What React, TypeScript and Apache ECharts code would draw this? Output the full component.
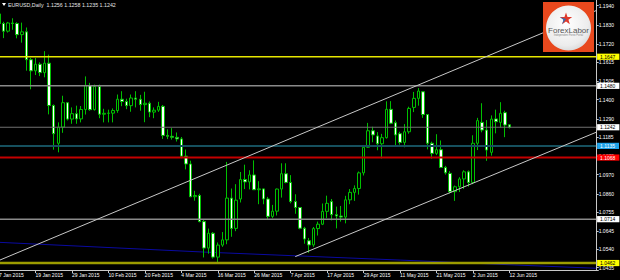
import React, { useEffect, useRef } from 'react';
import * as echarts from 'echarts';

// Daily EURUSD rows: [day, open, high, low, close]
const jan = [
  [7, 1.1893, 1.1896, 1.1802, 1.1838], [8, 1.1838, 1.1848, 1.1754, 1.1794], [9, 1.1794, 1.1847, 1.1786, 1.1841],
  [12, 1.1841, 1.1868, 1.1802, 1.1838], [13, 1.1838, 1.1845, 1.1753, 1.1774], [14, 1.1774, 1.1843, 1.1728, 1.1790],
  [15, 1.1790, 1.1815, 1.1567, 1.1630], [16, 1.1630, 1.1640, 1.1460, 1.1566], [19, 1.1566, 1.1640, 1.1542, 1.1604],
  [20, 1.1604, 1.1615, 1.1536, 1.1556], [21, 1.1556, 1.1679, 1.1529, 1.1610], [22, 1.1610, 1.1659, 1.1316, 1.1367],
  [23, 1.1367, 1.1373, 1.1113, 1.1205], [26, 1.1150, 1.1270, 1.1098, 1.1243], [27, 1.1243, 1.1423, 1.1210, 1.1383],
  [28, 1.1383, 1.1387, 1.1281, 1.1289], [29, 1.1289, 1.1356, 1.1262, 1.1320], [30, 1.1320, 1.1366, 1.1262, 1.1290],
];
const feb = [
  [2, 1.1290, 1.1364, 1.1270, 1.1344], [3, 1.1344, 1.1534, 1.1315, 1.1482], [4, 1.1482, 1.1497, 1.1337, 1.1343],
  [5, 1.1343, 1.1487, 1.1338, 1.1476], [6, 1.1476, 1.1487, 1.1294, 1.1317], [9, 1.1317, 1.1348, 1.1270, 1.1322],
  [10, 1.1322, 1.1343, 1.1270, 1.1323], [11, 1.1323, 1.1350, 1.1270, 1.1338], [12, 1.1338, 1.1430, 1.1325, 1.1403],
  [13, 1.1403, 1.1449, 1.1363, 1.1390], [16, 1.1390, 1.1406, 1.1346, 1.1366], [17, 1.1366, 1.1430, 1.1331, 1.1410],
  [18, 1.1410, 1.1449, 1.1356, 1.1403], [19, 1.1403, 1.1428, 1.1337, 1.1372], [20, 1.1372, 1.1446, 1.1271, 1.1380],
  [23, 1.1380, 1.1390, 1.1300, 1.1329], [24, 1.1329, 1.1356, 1.1294, 1.1340], [25, 1.1340, 1.1388, 1.1330, 1.1362],
  [26, 1.1362, 1.1370, 1.1175, 1.1195], [27, 1.1195, 1.1230, 1.1174, 1.1190],
];
const mar = [
  [2, 1.1190, 1.1237, 1.1171, 1.1184], [3, 1.1184, 1.1212, 1.1160, 1.1175], [4, 1.1175, 1.1186, 1.1064, 1.1076],
  [5, 1.1076, 1.1114, 1.1000, 1.1031], [6, 1.1031, 1.1050, 1.0840, 1.0843], [9, 1.0843, 1.0877, 1.0820, 1.0850],
  [10, 1.0850, 1.0860, 1.0696, 1.0700], [11, 1.0700, 1.0710, 1.0494, 1.0548], [12, 1.0548, 1.0660, 1.0516, 1.0633],
  [13, 1.0633, 1.0640, 1.0488, 1.0496], [16, 1.0496, 1.0580, 1.0462, 1.0565], [17, 1.0565, 1.0640, 1.0555, 1.0595],
  [18, 1.0595, 1.1043, 1.0570, 1.0835], [19, 1.0835, 1.0890, 1.0613, 1.0661], [20, 1.0661, 1.0915, 1.0645, 1.0823],
  [23, 1.0830, 1.0985, 1.0810, 1.0942], [24, 1.0942, 1.1027, 1.0887, 1.0928], [25, 1.0928, 1.0995, 1.0885, 1.0968],
  [26, 1.0968, 1.1052, 1.0883, 1.0883], [27, 1.0883, 1.0932, 1.0800, 1.0888], [30, 1.0888, 1.0890, 1.0800, 1.0830],
  [31, 1.0830, 1.0842, 1.0712, 1.0730],
];
const apr = [
  [1, 1.0730, 1.0796, 1.0720, 1.0760], [2, 1.0760, 1.0890, 1.0735, 1.0887], [3, 1.0887, 1.1035, 1.0838, 1.0975],
  [6, 1.0975, 1.1035, 1.0920, 1.0925], [7, 1.0925, 1.0967, 1.0805, 1.0815], [8, 1.0815, 1.0857, 1.0745, 1.0781],
  [9, 1.0781, 1.0783, 1.0656, 1.0662], [10, 1.0662, 1.0670, 1.0573, 1.0600], [13, 1.0590, 1.0606, 1.0521, 1.0566],
  [14, 1.0566, 1.0669, 1.0555, 1.0660], [15, 1.0660, 1.0700, 1.0620, 1.0685], [16, 1.0685, 1.0804, 1.0680, 1.0759],
  [17, 1.0759, 1.0849, 1.0720, 1.0805], [20, 1.0815, 1.0830, 1.0707, 1.0740], [21, 1.0740, 1.0786, 1.0661, 1.0732],
  [22, 1.0732, 1.0790, 1.0700, 1.0726], [23, 1.0726, 1.0848, 1.0690, 1.0825], [24, 1.0825, 1.0887, 1.0800, 1.0868],
  [27, 1.0868, 1.0908, 1.0819, 1.0890], [28, 1.0890, 1.0988, 1.0855, 1.0980], [29, 1.0980, 1.1140, 1.0965, 1.1127],
  [30, 1.1127, 1.1267, 1.1124, 1.1222],
];
const may = [
  [1, 1.1222, 1.1245, 1.1156, 1.1198], [4, 1.1192, 1.1214, 1.1110, 1.1147], [5, 1.1147, 1.1204, 1.1063, 1.1182],
  [6, 1.1182, 1.1391, 1.1177, 1.1345], [7, 1.1345, 1.1392, 1.1260, 1.1265], [8, 1.1268, 1.1281, 1.1132, 1.1198],
  [11, 1.1205, 1.1216, 1.1142, 1.1155], [12, 1.1155, 1.1260, 1.1127, 1.1216], [13, 1.1216, 1.1360, 1.1205, 1.1350],
  [14, 1.1356, 1.1445, 1.1329, 1.1408], [15, 1.1408, 1.1467, 1.1366, 1.1450], [18, 1.1446, 1.1449, 1.1296, 1.1315],
  [19, 1.1315, 1.1318, 1.1115, 1.1150], [20, 1.1150, 1.1159, 1.1062, 1.1092], [21, 1.1092, 1.1202, 1.1082, 1.1113],
  [22, 1.1113, 1.1166, 1.1010, 1.1011], [25, 1.1011, 1.1020, 1.0970, 1.0980], [26, 1.0977, 1.0990, 1.0862, 1.0872],
  [27, 1.0872, 1.0907, 1.0819, 1.0900], [28, 1.0900, 1.0955, 1.0870, 1.0945], [29, 1.0945, 1.0995, 1.0888, 1.0986],
];
const jun = [
  [1, 1.0986, 1.0994, 1.0901, 1.0925], [2, 1.0925, 1.1196, 1.0915, 1.1150], [3, 1.1150, 1.1296, 1.1111, 1.1280],
  [4, 1.1270, 1.1380, 1.1213, 1.1226], [5, 1.1226, 1.1283, 1.1049, 1.1111], [8, 1.1098, 1.1310, 1.1079, 1.1289],
  [9, 1.1290, 1.1343, 1.1207, 1.1274], [10, 1.1270, 1.1386, 1.1241, 1.1322], [11, 1.1326, 1.1337, 1.1185, 1.1255],
  [12, 1.1256, 1.1258, 1.1235, 1.1242],
];
// empty slots to the right of the last bar
const futureDates = [
  '15 Jun 2015', '16 Jun 2015', '17 Jun 2015', '18 Jun 2015', '19 Jun 2015', '22 Jun 2015', '23 Jun 2015',
  '24 Jun 2015', '25 Jun 2015', '26 Jun 2015', '29 Jun 2015', '30 Jun 2015', '1 Jul 2015', '2 Jul 2015',
  '3 Jul 2015', '6 Jul 2015', '7 Jul 2015', '8 Jul 2015', '9 Jul 2015',
];

const priceTicks = [1.1940, 1.1830, 1.1720, 1.1615, 1.1505, 1.1400, 1.1290, 1.1185, 1.1075, 1.0970, 1.0860, 1.0755, 1.0645, 1.0540, 1.0435];
const levels = [1.1647, 1.1480, 1.1242, 1.1135, 1.1068, 1.0714, 1.0462];
const upperChannel = [[0, 1.0477], [131, 1.1912]];
const lowerChannel = [[65, 1.0499], [131, 1.1213]];
const blueLine = [[0, 1.0581], [45, 1.0525], [88, 1.0479], [113, 1.0451], [131, 1.0432]];
const header = 'EURUSD,Daily  1.1256 1.1258 1.1235 1.1242';

const monthRows: [string, number[][]][] = [['Jan', jan], ['Feb', feb], ['Mar', mar], ['Apr', apr], ['May', may], ['Jun', jun]];
const dates: string[] = [];
const ohlc: number[][] = [];
monthRows.forEach(([m, rows]) => rows.forEach((r) => {
  dates.push(`${r[0]} ${m} 2015`);
  ohlc.push([r[1], r[4], r[3], r[2]]);
}));
const categories = dates.concat(futureDates);
const lastBar = dates.length - 1;
const lastSlot = categories.length - 1;

const levelStyles = [
  { line: '#e6e600', width: 1.6, bg: '#ffff00', fg: '#000000' },
  { line: '#8a8a8a', width: 1.5, bg: '#ffffff', fg: '#000000' },
  { line: '#707070', width: 1, bg: '#ffffff', fg: '#000000' },
  { line: '#16505e', width: 2, bg: '#1fa4ea', fg: '#ffffff' },
  { line: '#c40000', width: 2, bg: '#ff0000', fg: '#ffffff' },
  { line: '#8a8a8a', width: 1.5, bg: '#ffffff', fg: '#000000' },
  { line: '#9c9c00', width: 2.5, bg: '#ffff00', fg: '#000000' },
];

const FONT = '"Liberation Sans", Arial, sans-serif';
const GREEN = '#00c000';

function starPoints(cx: number, cy: number, ro: number, ri: number) {
  const pts: number[][] = [];
  for (let k = 0; k < 10; k++) {
    const a = -Math.PI / 2 + (k * Math.PI) / 5;
    const r = k % 2 === 0 ? ro : ri;
    pts.push([cx + r * Math.cos(a), cy + r * Math.sin(a)]);
  }
  return pts;
}

export default function App() {
  const ref = useRef<HTMLDivElement>(null);
  useEffect(() => {
    document.body.style.margin = '0';
    document.body.style.background = '#000';
    const chart = echarts.init(ref.current!, undefined, { renderer: 'svg' });
    const showIdx = (i: number) => i % 8 === 0 && i <= lastBar;
    const star = starPoints(566, 19, 6.5, 2.6);
    const levelSeries = levels.map((v, i) => ({
      type: 'line',
      data: [[0, v], [lastSlot, v]],
      symbol: 'none',
      silent: true,
      z: 4,
      lineStyle: { color: levelStyles[i].line, width: levelStyles[i].width, type: 'solid' },
      endLabel: {
        show: true, distance: 1,
        formatter: () => v.toFixed(4),
        fontSize: 5, lineHeight: 5, fontFamily: FONT,
        color: levelStyles[i].fg, backgroundColor: levelStyles[i].bg,
        padding: [0.6, 4, 0.6, 3],
      },
      labelLayout: { hideOverlap: false },
    }));
    chart.setOption({
      animation: false,
      backgroundColor: '#000000',
      textStyle: { fontFamily: FONT },
      grid: { left: -3.28, top: 0, width: 601.66, height: 270, containLabel: false, outerBoundsMode: 'none' },
      xAxis: {
        type: 'category',
        data: categories,
        boundaryGap: true,
        axisLine: { lineStyle: { color: '#c8c8c8', width: 1 } },
        axisTick: { show: true, interval: (i: number) => showIdx(i), alignWithLabel: true, length: 3, lineStyle: { color: '#c8c8c8' } },
        axisLabel: {
          interval: (i: number) => showIdx(i),
          align: 'left', fontSize: 5, color: '#ffffff', margin: 2, fontFamily: FONT,
        },
        splitLine: { show: false },
      },
      yAxis: {
        type: 'value',
        position: 'right',
        offset: -1.7,
        min: 1.0422,
        max: 1.1973,
        axisLine: { show: true, lineStyle: { color: '#c8c8c8', width: 1 } },
        axisTick: { show: true, length: 2, customValues: priceTicks, lineStyle: { color: '#c8c8c8' } },
        axisLabel: {
          customValues: priceTicks,
          formatter: (v: number) => v.toFixed(4),
          fontSize: 5, color: '#ffffff', margin: 2, fontFamily: FONT,
        },
        splitLine: { show: false },
      },
      series: [
        {
          type: 'line', data: blueLine, symbol: 'none', silent: true, z: 1,
          lineStyle: { color: '#0a0aa0', width: 1 },
        },
        {
          type: 'candlestick',
          data: ohlc,
          barWidth: 3,
          silent: true,
          z: 2,
          itemStyle: { color: '#000000', color0: '#ffffff', borderColor: GREEN, borderColor0: GREEN, borderWidth: 1 },
        },
        ...levelSeries,
        {
          type: 'line', data: upperChannel, symbol: 'none', silent: true, z: 5,
          lineStyle: { color: '#c8c8c8', width: 1 },
        },
        {
          type: 'line', data: lowerChannel, symbol: 'none', silent: true, z: 5,
          lineStyle: { color: '#c8c8c8', width: 1 },
        },
      ],
      graphic: [
        { type: 'polygon', z: 100, shape: { points: [[2, 3], [6, 3], [4, 6]] }, style: { fill: '#ffffff' } },
        { type: 'text', z: 100, x: 8, y: 4.6, style: { text: header, fontSize: 5.3, fontFamily: FONT, fill: '#e6e6e6', verticalAlign: 'middle' } },
        { type: 'rect', z: 100, shape: { x: 543, y: 2, width: 51, height: 50 }, style: { fill: '#e8481d' } },
        {
          type: 'circle', z: 101, shape: { cx: 568.5, cy: 28, r: 22.5 },
          style: {
            fill: new echarts.graphic.RadialGradient(0.45, 0.4, 0.7, [
              { offset: 0, color: '#ffffff' }, { offset: 0.7, color: '#ececec' }, { offset: 1, color: '#cfcfcf' },
            ]),
          },
        },
        { type: 'polygon', z: 102, shape: { points: star }, style: { fill: '#e0392b' } },
        { type: 'polygon', z: 103, shape: { points: [star[6], star[7], star[8], [566, 19]] }, style: { fill: '#2d6fb8' } },
        { type: 'text', z: 102, x: 568.5, y: 30, style: { text: 'ForexLabor', fontSize: 8, fontFamily: FONT, fill: '#555555', align: 'center', verticalAlign: 'middle' } },
        { type: 'text', z: 102, x: 568.5, y: 35.3, style: { text: 'Independent Forex Portal', fontSize: 2.6, fontFamily: FONT, fill: '#888888', align: 'center', verticalAlign: 'middle' } },
      ],
    });
    return () => chart.dispose();
  }, []);
  return <div ref={ref} style={{ position: 'fixed', left: 0, top: 0, width: 620, height: 280, background: '#000' }} />;
}
